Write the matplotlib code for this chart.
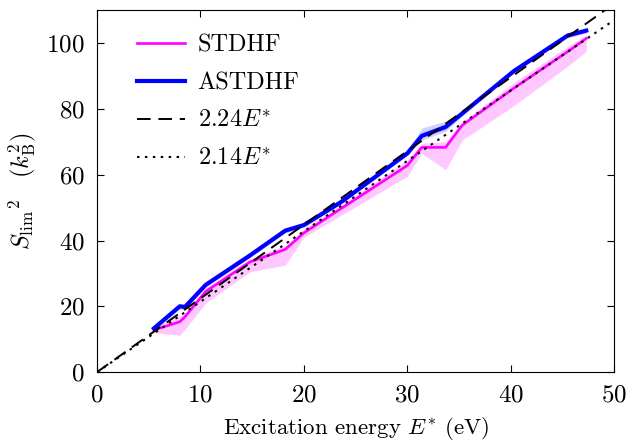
import numpy as np
import matplotlib
matplotlib.use('Agg')
import matplotlib.pyplot as plt

plt.rcParams['font.family'] = 'serif'
plt.rcParams['font.serif'] = ['cmr10']
plt.rcParams['mathtext.fontset'] = 'cm'
plt.rcParams['axes.unicode_minus'] = False
plt.rcParams['axes.formatter.use_mathtext'] = True

# excitation energies (eV)
energy = [5.5, 8.0, 8.5, 10.5, 14.8, 18.2, 20.0, 23.5, 30.0, 31.4, 33.7, 35.3, 40.3, 45.5, 47.3]

# STDHF: mean and spread
stdhf = [12.8, 15.3, 16.8, 24.5, 33.5, 37.3, 42.3, 49.5, 62.8, 68.3, 68.3, 75.0, 86.3, 97.4, 101.4]
stdhf_lo = [12.0, 11.2, 13.0, 21.0, 30.5, 32.5, 41.0, 47.5, 59.5, 66.5, 61.5, 70.5, 81.0, 93.0, 97.5]
stdhf_hi = [13.6, 17.0, 18.0, 25.5, 34.5, 38.5, 43.5, 50.5, 64.5, 69.5, 70.0, 76.0, 88.0, 99.0, 102.5]

# ASTDHF: mean and spread
astdhf = [13.3, 20.0, 19.8, 26.5, 35.5, 43.0, 44.7, 51.5, 66.5, 71.8, 74.5, 78.6, 91.5, 102.3, 103.8]
astdhf_lo = [12.5, 19.2, 19.0, 25.8, 34.8, 42.3, 44.0, 50.8, 65.8, 70.5, 73.2, 77.8, 90.8, 101.6, 103.0]
astdhf_hi = [14.2, 20.8, 20.6, 27.2, 36.2, 43.7, 45.4, 52.2, 67.2, 74.2, 76.3, 79.4, 92.2, 103.0, 104.5]

slope_a = 2.24
slope_b = 2.14

fig = plt.figure(figsize=(6.28, 4.43), dpi=100)
ax = fig.add_axes([0.1545, 0.160, 0.8235, 0.817])

ax.fill_between(energy, stdhf_lo, stdhf_hi, color='magenta', alpha=0.22, lw=0)
ax.fill_between(energy, astdhf_lo, astdhf_hi, color='blue', alpha=0.18, lw=0)

ax.plot(energy, stdhf, color='magenta', lw=1.9, label='STDHF')
ax.plot(energy, astdhf, color='blue', lw=3.0, label='ASTDHF')

e_fit = np.linspace(0, 50, 200)
ax.plot(e_fit, slope_a * e_fit, color='black', lw=1.4, linestyle=(0, (7, 4)),
        label=r'$2.24E^{*}$')
ax.plot(e_fit, slope_b * e_fit, color='black', lw=1.5, linestyle=(0, (1.2, 2.6)),
        label=r'$2.14E^{*}$')

ax.set_xlim(0, 50)
ax.set_ylim(0, 110)
ax.set_xticks(np.arange(0, 51, 10))
ax.set_yticks(np.arange(0, 101, 20))
ax.tick_params(direction='in', top=True, right=True, length=5, labelsize=18, pad=9)

ax.set_xlabel(r'Excitation energy $E^{*}$ (eV)', fontsize=16.5, labelpad=6)
ax.set_ylabel(r'${S_{\rm lim}}^{2}\quad(k_{\rm B}^{2})$', fontsize=17.5, labelpad=6)

ax.legend(loc='upper left', frameon=False, fontsize=17.5, handlelength=2.0,
          handletextpad=0.5, labelspacing=0.65, borderaxespad=0.6,
          bbox_to_anchor=(0.03, 1.0))

fig.savefig('out.png', dpi=100)
